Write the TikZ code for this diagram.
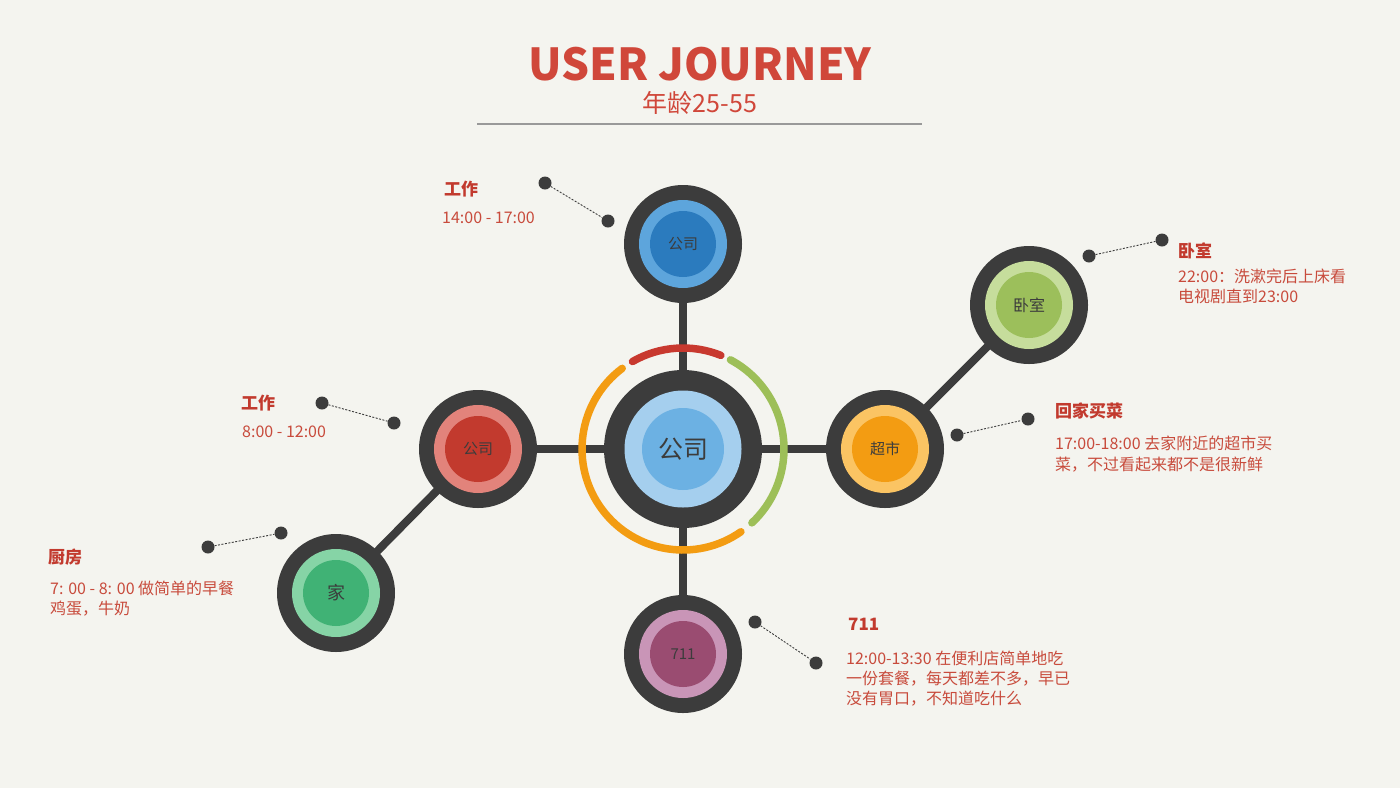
\documentclass[tikz,border=0pt]{standalone}
\usepackage{fontspec}
\setmainfont{Noto Sans CJK SC}
\definecolor{bgc}{HTML}{F4F4EF}
\definecolor{dark}{HTML}{3C3C3C}
\definecolor{ttl}{HTML}{D0473A}
\definecolor{txt}{HTML}{C84B3C}
\definecolor{lbl}{HTML}{C23A2E}
\definecolor{blueR}{HTML}{5DA5DC}\definecolor{blueI}{HTML}{2B7BBE}
\definecolor{cenR}{HTML}{A5CFEE}\definecolor{cenI}{HTML}{6CB1E3}
\definecolor{redR}{HTML}{E2837B}\definecolor{redI}{HTML}{C23A2E}
\definecolor{oraR}{HTML}{FBC463}\definecolor{oraI}{HTML}{F39C12}
\definecolor{pluR}{HTML}{C995B7}\definecolor{pluI}{HTML}{9A4C71}
\definecolor{grnR}{HTML}{86D4A6}\definecolor{grnI}{HTML}{40B275}
\definecolor{limR}{HTML}{C6DD9C}\definecolor{limI}{HTML}{9CBF5B}
\definecolor{arcR}{HTML}{C8392F}\definecolor{arcG}{HTML}{9DBF58}\definecolor{arcO}{HTML}{F39C12}
\begin{document}
\begin{tikzpicture}[x=1pt,y=-1pt,
  outer/.style={circle,fill=dark,minimum size=118pt,inner sep=0pt},
  ring/.style={circle,fill=#1,minimum size=88pt,inner sep=0pt},
  core/.style={circle,fill=#1,minimum size=66pt,inner sep=0pt,text=dark,font=\fontsize{15pt}{18pt}\selectfont},
  spoke/.style={dark,line width=8pt},
  dot/.style={circle,fill=dark,minimum size=13pt,inner sep=0pt},
  leader/.style={dark,line width=0.9pt,dash pattern=on 2pt off 1.5pt},
  head/.style={anchor=base west,inner sep=0pt,text=lbl,font=\fontsize{17pt}{20pt}\selectfont\bfseries},
  body/.style={anchor=base west,inner sep=0pt,text=txt,font=\fontsize{16pt}{20pt}\selectfont},
  arcline/.style={line width=7.5pt,line cap=round}]
\fill[bgc] (0,0) rectangle (1400,788);
% title
\node[inner sep=0pt,anchor=base,text=ttl,font=\fontsize{44pt}{48pt}\selectfont\bfseries] (title) at (700,80) {USER JOURNEY};
\node[inner sep=0pt,anchor=base,text=ttl,font=\fontsize{25pt}{28pt}\selectfont] (sub) at (700,112) {年龄25-55};
\coordinate (l1) at (477,124); \coordinate (l2) at (922,124);
\draw[color=black!40,line width=1.3pt] (l1) -- (l2);
% centers
\coordinate (C) at (683,449);
\coordinate (T) at (683,244);
\coordinate (B) at (683,654);
\coordinate (L) at (478,449);
\coordinate (R) at (885,449);
\coordinate (H) at (336,593);
\coordinate (S) at (1029,305);
% spokes
\draw[spoke] (T) -- (B);
\draw[spoke] (L) -- (R);
\draw[spoke] (L) -- (H);
\draw[spoke] (R) -- (S);
% arcs
\draw[arcline,arcR] ([shift={(120:101pt)}]C) arc[start angle=120,end angle=68,radius=101pt];
\draw[arcline,arcG] ([shift={(62:101pt)}]C) arc[start angle=62,end angle=-47,radius=101pt];
\draw[arcline,arcO] ([shift={(127:101pt)}]C) arc[start angle=127,end angle=305,radius=101pt];
% center node
\node[circle,fill=dark,minimum size=158pt,inner sep=0pt] (Co) at (C) {};
\node[circle,fill=cenR,minimum size=117pt,inner sep=0pt] (Cr) at (C) {};
\node[circle,fill=cenI,minimum size=82pt,inner sep=0pt,text=dark,font=\fontsize{25pt}{28pt}\selectfont] (Ci) at (C) {公司};
% top
\node[outer] (To) at (T) {};
\node[ring=blueR] (Tr) at (T) {};
\node[core=blueI] (Ti) at (T) {公司};
% left
\node[outer] (Lo) at (L) {};
\node[ring=redR] (Lr) at (L) {};
\node[core=redI] (Li) at (L) {公司};
% right
\node[outer] (Ro) at (R) {};
\node[ring=oraR] (Rr) at (R) {};
\node[core=oraI] (Ri) at (R) {超市};
% bottom
\node[outer] (Bo) at (B) {};
\node[ring=pluR] (Br) at (B) {};
\node[core=pluI] (Bi) at (B) {711};
% home
\node[outer] (Ho) at (H) {};
\node[ring=grnR] (Hr) at (H) {};
\node[core=grnI,font=\fontsize{18pt}{20pt}\selectfont] (Hi) at (H) {家};
% bedroom
\node[outer] (So) at (S) {};
\node[ring=limR] (Sr) at (S) {};
\node[core=limI,font=\fontsize{16pt}{18pt}\selectfont] (Si) at (S) {卧室};
% leaders
\node[dot] (d1a) at (545,183) {}; \node[dot] (d1b) at (608,221) {};
\draw[leader] (d1a) -- (d1b);
\node[dot] (d2a) at (322,403) {}; \node[dot] (d2b) at (394,423) {};
\draw[leader] (d2a) -- (d2b);
\node[dot] (d3a) at (208,547) {}; \node[dot] (d3b) at (281,533) {};
\draw[leader] (d3a) -- (d3b);
\node[dot] (d4a) at (755,622) {}; \node[dot] (d4b) at (816,663) {};
\draw[leader] (d4a) -- (d4b);
\node[dot] (d5a) at (957,435) {}; \node[dot] (d5b) at (1028,419) {};
\draw[leader] (d5a) -- (d5b);
\node[dot] (d6a) at (1089,256) {}; \node[dot] (d6b) at (1162,240) {};
\draw[leader] (d6a) -- (d6b);
% texts
\node[head] (h1) at (444,195) {工作};
\node[body] (b1) at (442,223) {14:00 - 17:00};
\node[head] (h2) at (241,409) {工作};
\node[body] (b2) at (242,437) {8:00 - 12:00};
\node[head] (h3) at (48,563) {厨房};
\node[body] (b3a) at (50,594) {7: 00 - 8: 00 做简单的早餐};
\node[body] (b3b) at (50,614) {鸡蛋，牛奶};
\node[head] (h4) at (848,630) {711};
\node[body] (b4a) at (846,664) {12:00-13:30 在便利店简单地吃};
\node[body] (b4b) at (846,684) {一份套餐，每天都差不多，早已};
\node[body] (b4c) at (846,704) {没有胃口，不知道吃什么};
\node[head] (h5) at (1055,417) {回家买菜};
\node[body] (b5a) at (1055,449) {17:00-18:00 去家附近的超市买};
\node[body] (b5b) at (1055,470) {菜，不过看起来都不是很新鲜};
\node[head] (h6) at (1178,257) {卧室};
\node[body] (b6a) at (1178,282) {22:00：洗漱完后上床看};
\node[body] (b6b) at (1178,302) {电视剧直到23:00};
\end{tikzpicture}
\end{document}
